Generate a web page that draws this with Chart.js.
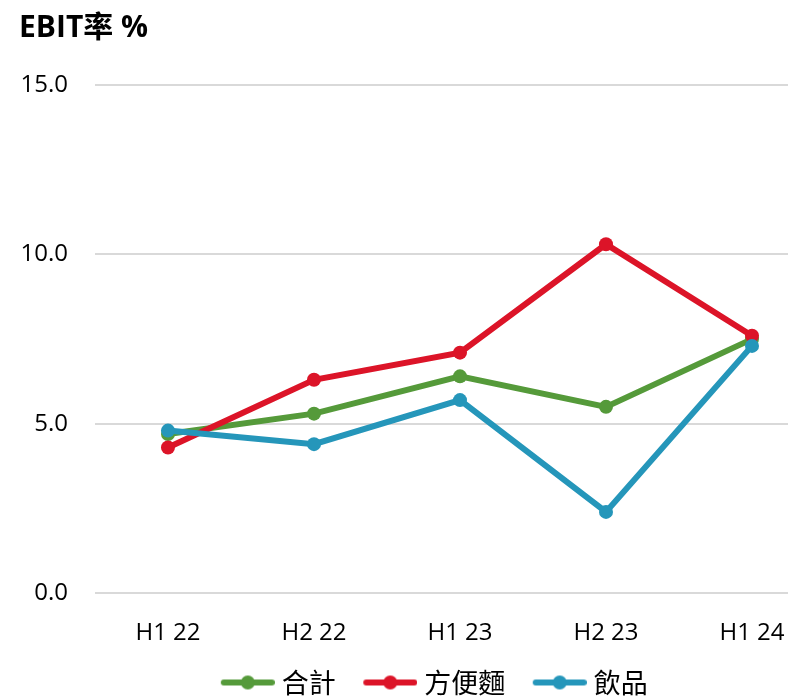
<!DOCTYPE html>
<html>
<head>
<meta charset="utf-8">
<script src="https://cdn.jsdelivr.net/npm/chart.js@4"></script>
<style>
  body { margin: 0; overflow: hidden; background: #fff; }
  #wrap { width: 840px; height: 698px; }
</style>
</head>
<body>
<div id="wrap"><canvas id="ebitChart" width="840" height="698"></canvas></div>
<script>
const periodos = ['H1 22', 'H2 22', 'H1 23', 'H2 23', 'H1 24'];
const total = [4.7, 5.3, 6.4, 5.5, 7.5];
const fideos = [4.3, 6.3, 7.1, 10.3, 7.6];
const bebidas = [4.8, 4.4, 5.7, 2.4, 7.3];

const verde = '#559a3a';
const rojo = '#dc1428';
const azul = '#2596ba';

// line+dot marker for the legend, with empty room on the left as item spacing
const hueco = 31;
function marca(color) {
  const c = document.createElement('canvas');
  c.width = 54 + hueco; c.height = 16;
  const g = c.getContext('2d');
  g.strokeStyle = color;
  g.lineWidth = 6;
  g.lineCap = 'round';
  g.beginPath(); g.moveTo(hueco + 3, 8); g.lineTo(hueco + 51, 8); g.stroke();
  g.fillStyle = color;
  g.beginPath(); g.arc(hueco + 27, 8, 7, 0, Math.PI * 2); g.fill();
  return c;
}

function serie(label, data, color, orden) {
  return {
    label: label,
    data: data,
    borderColor: color,
    backgroundColor: color,
    borderWidth: 6,
    pointRadius: 7,
    pointHoverRadius: 7,
    pointBorderWidth: 0,
    pointStyle: 'circle',
    tension: 0,
    order: orden,
    marca: marca(color)
  };
}

const ctx = document.getElementById('ebitChart').getContext('2d');
const myChart = new Chart(ctx, {
  type: 'line',
  data: {
    labels: periodos,
    datasets: [
      serie('合計', total, verde, 2),
      serie('方便麵', fideos, rojo, 1),
      serie('飲品', bebidas, azul, 0)
    ]
  },
  options: {
    responsive: false,
    animation: false,
    layout: { padding: { left: 19, right: 15, top: 0, bottom: -8 } },
    plugins: {
      title: {
        display: true,
        text: 'EBIT率 %',
        align: 'start',
        color: '#000',
        font: { family: 'Open Sans, Noto Sans CJK TC', size: 30, weight: 'bold' },
        padding: { top: 10, bottom: 39 }
      },
      legend: {
        position: 'bottom',
        labels: {
          usePointStyle: true,
          pointStyleWidth: 72,
          color: '#000',
          padding: 3,
          font: { family: 'Noto Sans CJK TC', size: 27 },
          sort: (a, b) => a.datasetIndex - b.datasetIndex,
          generateLabels: (chart) => chart.data.datasets.map((ds, i) => ({
            text: ds.label,
            fontColor: '#000',
            pointStyle: ds.marca,
            datasetIndex: i,
            hidden: false,
            lineWidth: 0
          }))
        }
      },
      tooltip: { enabled: false }
    },
    scales: {
      x: {
        offset: true,
        grid: { display: false },
        border: { display: false },
        ticks: { color: '#000', padding: 18, font: { family: 'Open Sans', size: 24 } }
      },
      y: {
        min: 0,
        max: 15,
        afterFit: (scale) => { scale.width = 76; },
        ticks: {
          stepSize: 5,
          color: '#000',
          padding: 27,
          font: { family: 'Open Sans', size: 24 },
          callback: (v) => v.toFixed(1)
        },
        grid: { color: '#d9d9d9', lineWidth: 2, drawTicks: false },
        border: { display: false }
      }
    }
  }
});
</script>
</body>
</html>
